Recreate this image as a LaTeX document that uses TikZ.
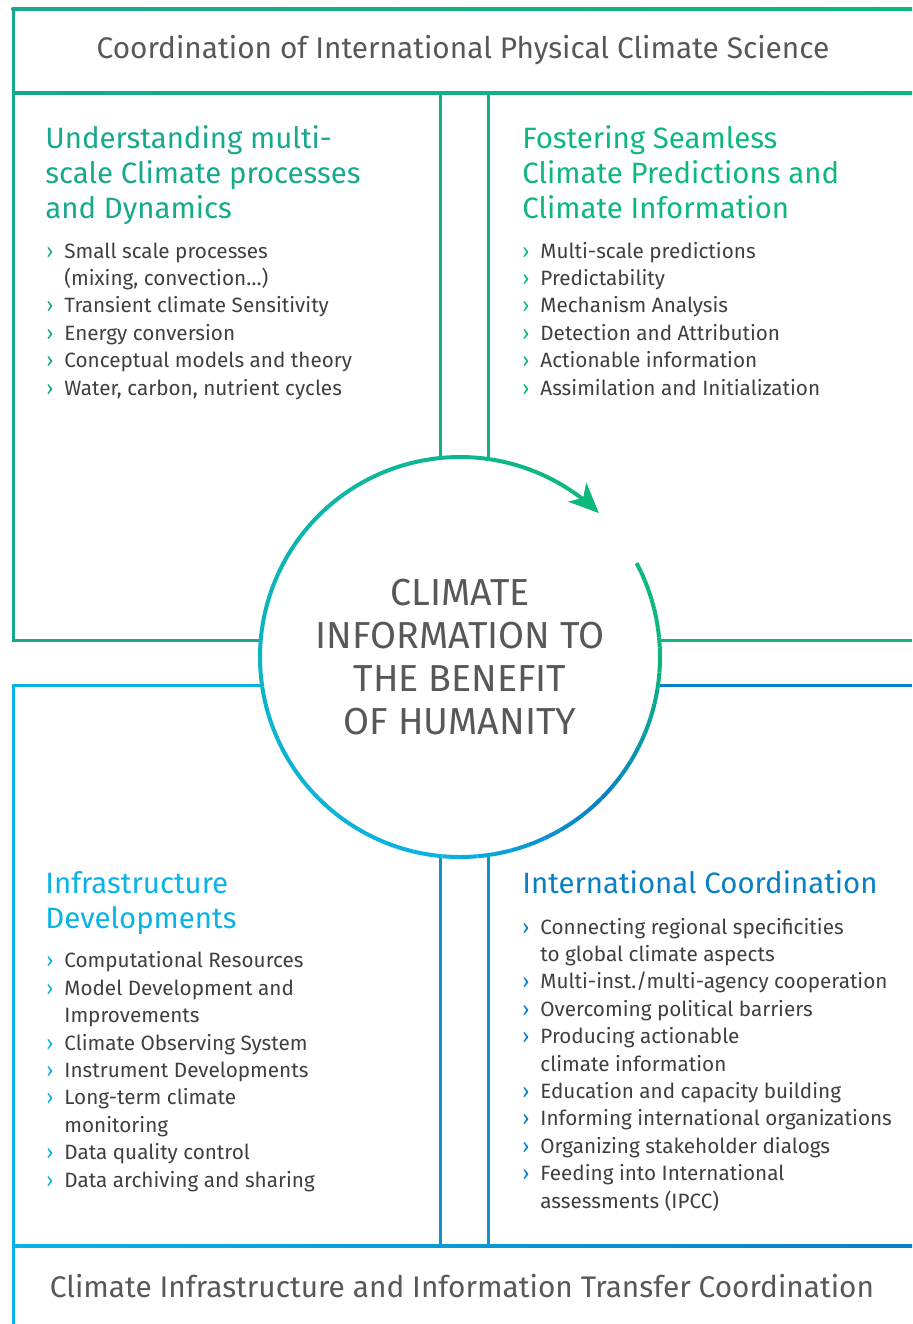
\documentclass[tikz,border=0pt]{standalone}
\usepackage{fontspec}
\setmainfont{Fira Sans}
\usetikzlibrary{arrows.meta}
\definecolor{tealg}{HTML}{17A98C}
\definecolor{greeng}{HTML}{0DB87A}
\definecolor{cyanb}{HTML}{0AB2E6}
\definecolor{blueb}{HTML}{0A80C4}
\definecolor{ringt}{HTML}{0DB4C4}
\definecolor{txt}{HTML}{3F3F3F}
\definecolor{gtxt}{HTML}{585858}
\newcommand{\bl}[1]{\makebox[9pt][l]{\textcolor{#1}{›}}}
\newcommand{\ind}{\hspace*{9pt}}

\begin{document}
\begin{tikzpicture}[x=0.5pt,y=0.5pt]
\tikzstyle{frame}=[line width=1.5pt]
\tikzstyle{ring}=[line width=2pt]
\tikzstyle{head}=[anchor=base west,align=left,inner sep=0pt,font=\fontsize{14.7}{17.5}\selectfont]
\tikzstyle{list}=[anchor=base west,align=left,inner sep=0pt,text=txt,font=\fontsize{10.35}{13.7}\selectfont]
\tikzstyle{band}=[anchor=base,inner sep=0pt,text=gtxt,font=\fontsize{14.9}{18}\selectfont]
\useasboundingbox (0,0) rectangle (912,-1324);
% frame lines
\shade[left color=tealg,right color=greeng] (11.5,-7.5) rectangle (912,-10.5);
\shade[left color=tealg,right color=greeng] (13,-91.5) rectangle (912,-94.5);
\shade[left color=cyanb,right color=blueb] (13,-1244.5) rectangle (912,-1247.5);
\draw[frame,tealg] (13,-9) -- (13,-640) -- (300,-640);
\draw[frame,greeng] (620,-640) -- (912,-640);
\draw[frame,cyanb] (300,-685) -- (13,-685) -- (13,-1324);
\draw[frame,blueb] (620,-685) -- (912,-685);
\draw[frame,tealg!50!greeng] (440,-93) -- (440,-500) (488,-93) -- (488,-500);
\draw[frame,cyanb!40!blueb] (440,-800) -- (440,-1246) (488,-800) -- (488,-1246);
% centre
\node[circle,fill=white,minimum size=200pt,inner sep=0pt,align=center,text=gtxt,font=\fontsize{18.8}{21.5}\selectfont] (hub) at (460,-657) {CLIMATE\\INFORMATION TO\\THE BENEFIT\\OF HUMANITY};
\foreach \s/\e/\ca/\cb in {28/0/greeng/greeng,0/-45/greeng/blueb,-45/-95/blueb/cyanb,-95/-180/cyanb/ringt,-180/-304/ringt/greeng}
  \foreach \k in {0,...,9}{
    \pgfmathsetmacro\u{\s+(\e-\s)*\k/10}
    \pgfmathsetmacro\v{\s+(\e-\s)*(\k+1)/10}
    \pgfmathtruncatemacro\p{10*\k+5}
    \draw[ring,\cb!\p!\ca] ([shift={(hub.center)}]\u:100pt) arc[start angle=\u,end angle=\v,radius=100pt];
  }
\draw[ring,greeng,-{Stealth[length=15pt,width=13pt,inset=4pt]}] ([shift={(hub.center)}]56:100pt) arc[start angle=56,end angle=46,radius=100pt];
% bands
\node[band] (n1) at (463,-58) {Coordination of International Physical Climate Science};
\node[band] (n10) at (462,-1297) {Climate Infrastructure and Information Transfer Coordination};
% quadrants (base = last line)
\node[head,text=tealg] (n2) at (45,-218) {Understanding multi-\\scale Climate processes\\and Dynamics};
\node[head,text=greeng] (n3) at (522,-218) {Fostering Seamless\\Climate Predictions and\\Climate Information};
\node[list] (n4) at (46,-395) {\bl{tealg}Small scale processes\\\ind(mixing, convection…)\\\bl{tealg}Transient climate Sensitivity\\\bl{tealg}Energy conversion\\\bl{tealg}Conceptual models and theory\\\bl{tealg}Water, carbon, nutrient cycles};
\node[list] (n5) at (522,-395) {\bl{greeng}Multi-scale predictions\\\bl{greeng}Predictability\\\bl{greeng}Mechanism Analysis\\\bl{greeng}Detection and Attribution\\\bl{greeng}Actionable information\\\bl{greeng}Assimilation and Initialization};
\node[head,text=cyanb] (n6) at (45,-928) {Infrastructure\\Developments};
\node[head,text=blueb] (n7) at (522,-893) {International Coordination};
\node[list] (n8) at (46,-1187) {\bl{cyanb}Computational Resources\\\bl{cyanb}Model Development and\\\ind Improvements\\\bl{cyanb}Climate Observing System\\\bl{cyanb}Instrument Developments\\\bl{cyanb}Long-term climate\\\ind monitoring\\\bl{cyanb}Data quality control\\\bl{cyanb}Data archiving and sharing};
\node[list] (n9) at (522,-1208) {\bl{blueb}Connecting regional specificities\\\ind to global climate aspects\\\bl{blueb}Multi-inst./multi-agency cooperation\\\bl{blueb}Overcoming political barriers\\\bl{blueb}Producing actionable\\\ind climate information\\\bl{blueb}Education and capacity building\\\bl{blueb}Informing international organizations\\\bl{blueb}Organizing stakeholder dialogs\\\bl{blueb}Feeding into International\\\ind assessments (IPCC)};
\end{tikzpicture}
\end{document}
